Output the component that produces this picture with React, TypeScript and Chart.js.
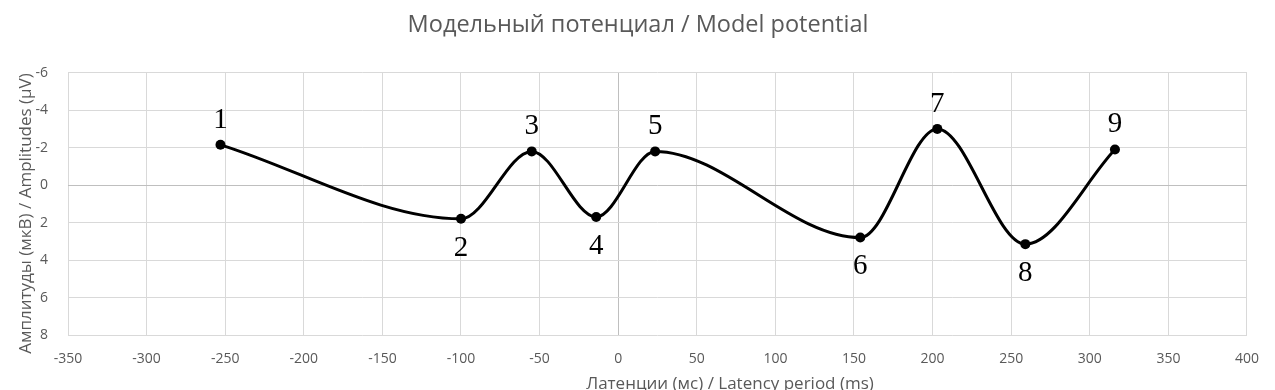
import React, { useEffect, useRef } from "react";
import { Chart, registerables } from "chart.js";

Chart.register(...registerables);

const chartTitle = "Модельный потенциал / Model potential";
const xAxisTitle = "Латенции (мс) / Latency period (ms)";
const yAxisTitle = "Амплитуды (мкВ) / Amplitudes (µV)";

const latencyMs = [-253, -100, -55, -14, 23.5, 154, 203, 259, 316];
const amplitudeUv = [-2.15, 1.8, -1.8, 1.7, -1.8, 2.8, -3.0, 3.15, -1.9];
const pointNames = ["1", "2", "3", "4", "5", "6", "7", "8", "9"];
const labelSides = ["above", "below", "above", "below", "above", "below", "above", "below", "above"];

const xMin = -350;
const xMax = 400;
const xStep = 50;
const yMin = -6;
const yMax = 8;
const yStep = 2;

const TEXT_GREY = "#595959";
const GRID = "#d9d9d9";
const ZERO_GRID = "#bfbfbf";
const SANS = "'Open Sans', sans-serif";

const labelsPlugin = {
  id: "customText",
  afterDatasetsDraw(chart: any) {
    const ctx = chart.ctx;
    const meta = chart.getDatasetMeta(0);
    ctx.save();
    ctx.fillStyle = "#000000";
    ctx.font = "29px 'Liberation Serif', serif";
    ctx.textAlign = "center";
    ctx.textBaseline = "alphabetic";
    const half = 0.338 * 29;
    meta.data.forEach((pt: any, i: number) => {
      const off = 27;
      const cy = labelSides[i] === "above" ? pt.y - off : pt.y + off;
      ctx.fillText(pointNames[i], pt.x, cy + half);
    });
    ctx.restore();
  },
  afterDraw(chart: any) {
    const ctx = chart.ctx;
    ctx.save();
    ctx.fillStyle = TEXT_GREY;
    ctx.textAlign = "center";
    ctx.textBaseline = "alphabetic";
    ctx.font = `23.5px ${SANS}`;
    ctx.fillText(chartTitle, 638, 24 + 0.357 * 23.5);
    ctx.font = `17px ${SANS}`;
    ctx.fillText(xAxisTitle, 730, 383 + 0.357 * 17);
    ctx.translate(25 + 0.357 * 17, 213.5);
    ctx.rotate(-Math.PI / 2);
    ctx.fillText(yAxisTitle, 0, 0);
    ctx.restore();
  },
};

export default function App() {
  const canvasRef = useRef<HTMLCanvasElement | null>(null);

  useEffect(() => {
    document.body.style.margin = "0";
    const canvas = canvasRef.current;
    if (!canvas) return;
    const points = latencyMs.map((x, i) => ({ x, y: amplitudeUv[i] }));
    const chart = new Chart(canvas, {
      type: "line",
      data: {
        datasets: [
          {
            data: points,
            borderColor: "#000000",
            backgroundColor: "#000000",
            borderWidth: 3,
            pointRadius: 5,
            pointBackgroundColor: "#000000",
            pointBorderColor: "#000000",
            pointBorderWidth: 0,
            cubicInterpolationMode: "monotone",
            fill: false,
          },
        ],
      },
      options: {
        animation: false,
        responsive: true,
        maintainAspectRatio: false,
        layout: { padding: { left: 0, right: 27, top: 72.7, bottom: 0 } },
        plugins: {
          legend: { display: false },
          title: { display: false },
          tooltip: { enabled: false },
        },
        scales: {
          x: {
            type: "linear",
            min: xMin,
            max: xMax,
            ticks: {
              stepSize: xStep,
              color: TEXT_GREY,
              font: { family: SANS, size: 14 },
              padding: 16,
              maxRotation: 0,
            },
            grid: {
              drawTicks: false,
              lineWidth: 1,
              color: (c: any) => (c.tick && c.tick.value === 0 ? ZERO_GRID : GRID),
            },
            border: { display: false },
            afterFit: (s: any) => {
              s.height = 55;
            },
          },
          y: {
            type: "linear",
            reverse: true,
            min: yMin,
            max: yMax,
            ticks: {
              stepSize: yStep,
              color: TEXT_GREY,
              font: { family: SANS, size: 14 },
              padding: 20,
            },
            grid: {
              drawTicks: false,
              lineWidth: 1,
              color: (c: any) => (c.tick && c.tick.value === 0 ? ZERO_GRID : GRID),
            },
            border: { display: false },
            afterFit: (s: any) => {
              s.width = 68;
            },
          },
        },
      },
      plugins: [labelsPlugin],
    });
    return () => chart.destroy();
  }, []);

  return (
    <div style={{ position: "absolute", left: 0, top: 0, width: 1275, height: 390 }}>
      <canvas ref={canvasRef} />
    </div>
  );
}
